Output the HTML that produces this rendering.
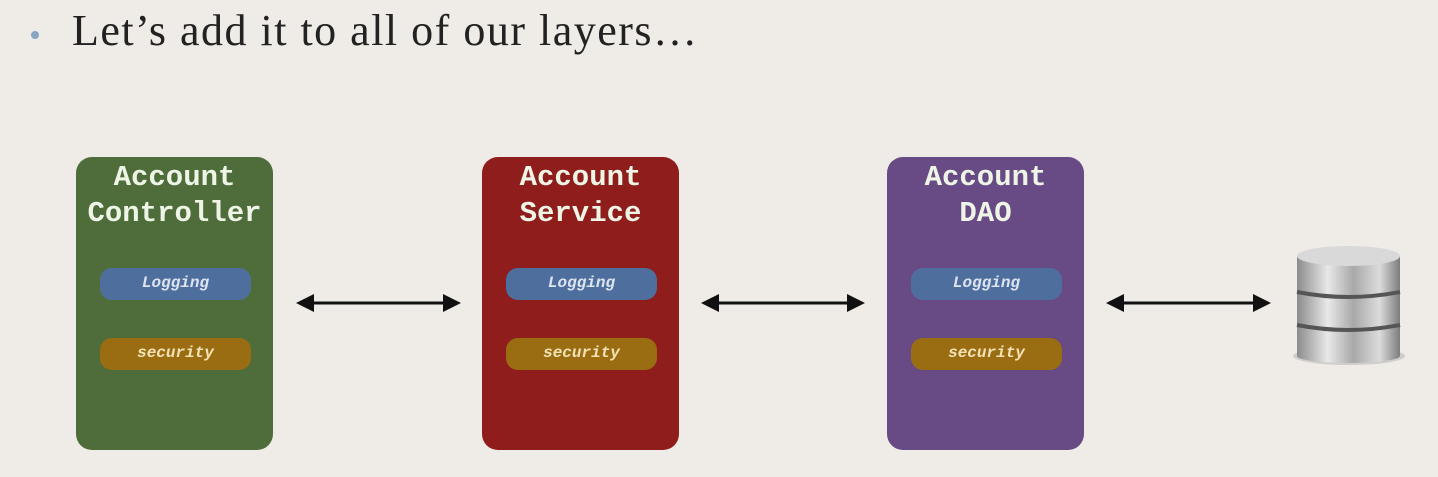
<!DOCTYPE html>
<html><head><style>
body{margin:0;width:1438px;height:477px;background:#efebe6;position:relative;overflow:hidden;font-family:"Liberation Sans",sans-serif}
.t{position:absolute;left:72px;top:8px;font-family:"Liberation Serif",serif;font-size:44px;line-height:46px;letter-spacing:1.5px;color:#222;white-space:nowrap}
.b{position:absolute;left:31px;top:31px;width:8px;height:8px;border-radius:50%;background:#8aa4c4}
.box{position:absolute;top:157px;width:197px;height:293px;border-radius:16px}
.h{position:absolute;width:100%;text-align:center;font-family:"Liberation Mono",monospace;font-weight:bold;font-size:29px;line-height:36px;color:#eef5e6}
.box .h{top:3px}
.p{position:absolute;left:24px;width:151px;height:32px;border-radius:12px;text-align:center;font-family:"Liberation Mono",monospace;font-style:italic;font-weight:bold;font-size:16px;line-height:30px;color:#eee}
.l{top:111px;background:#4e6f9e;color:#dde4f0}
.s{top:181px;background:#9b6d12;color:#f3e2b5}
</style></head><body>
<div class="b"></div><div class="t">Let’s add it to all of our layers…</div>
<div class="box" style="left:76px;background:#4e6d3b"><div class="h">Account<br>Controller</div><div class="p l">Logging</div><div class="p s">security</div></div>
<div class="box" style="left:482px;background:#8e1d1b"><div class="h">Account<br>Service</div><div class="p l">Logging</div><div class="p s">security</div></div>
<div class="box" style="left:887px;background:#684a85"><div class="h">Account<br>DAO</div><div class="p l">Logging</div><div class="p s">security</div></div>
<svg width="1438" height="477" style="position:absolute;left:0;top:0">
<defs>
<marker id="a" markerWidth="6" markerHeight="6" refX="5" refY="3" orient="auto-start-reverse" markerUnits="strokeWidth"><path d="M0,0 L6,3 L0,6 Z" fill="#111"/></marker>
<linearGradient id="g" x1="0" x2="1"><stop offset="0" stop-color="#8c8c8c"/><stop offset=".3" stop-color="#e8e8e8"/><stop offset=".55" stop-color="#a8a8a8"/><stop offset=".8" stop-color="#dcdcdc"/><stop offset="1" stop-color="#7c7c7c"/></linearGradient>
</defs>
<g stroke="#111" stroke-width="3" marker-start="url(#a)" marker-end="url(#a)">
<line x1="299" y1="303" x2="458" y2="303"/>
<line x1="704" y1="303" x2="862" y2="303"/>
<line x1="1109" y1="303" x2="1268" y2="303"/>
</g>
<ellipse cx="1349" cy="356" rx="56" ry="9" fill="#bbb" opacity=".6"/>
<rect x="1297" y="256" width="103" height="100" fill="url(#g)"/>
<ellipse cx="1348.5" cy="356" rx="51.5" ry="7" fill="url(#g)"/>
<ellipse cx="1348.5" cy="256" rx="51.5" ry="10" fill="#d9d9d9"/>
<path d="M1297,292 Q1348,302 1400,292" stroke="#555" stroke-width="4" fill="none"/>
<path d="M1297,325 Q1348,335 1400,325" stroke="#555" stroke-width="4" fill="none"/>
</svg>
</body></html>
